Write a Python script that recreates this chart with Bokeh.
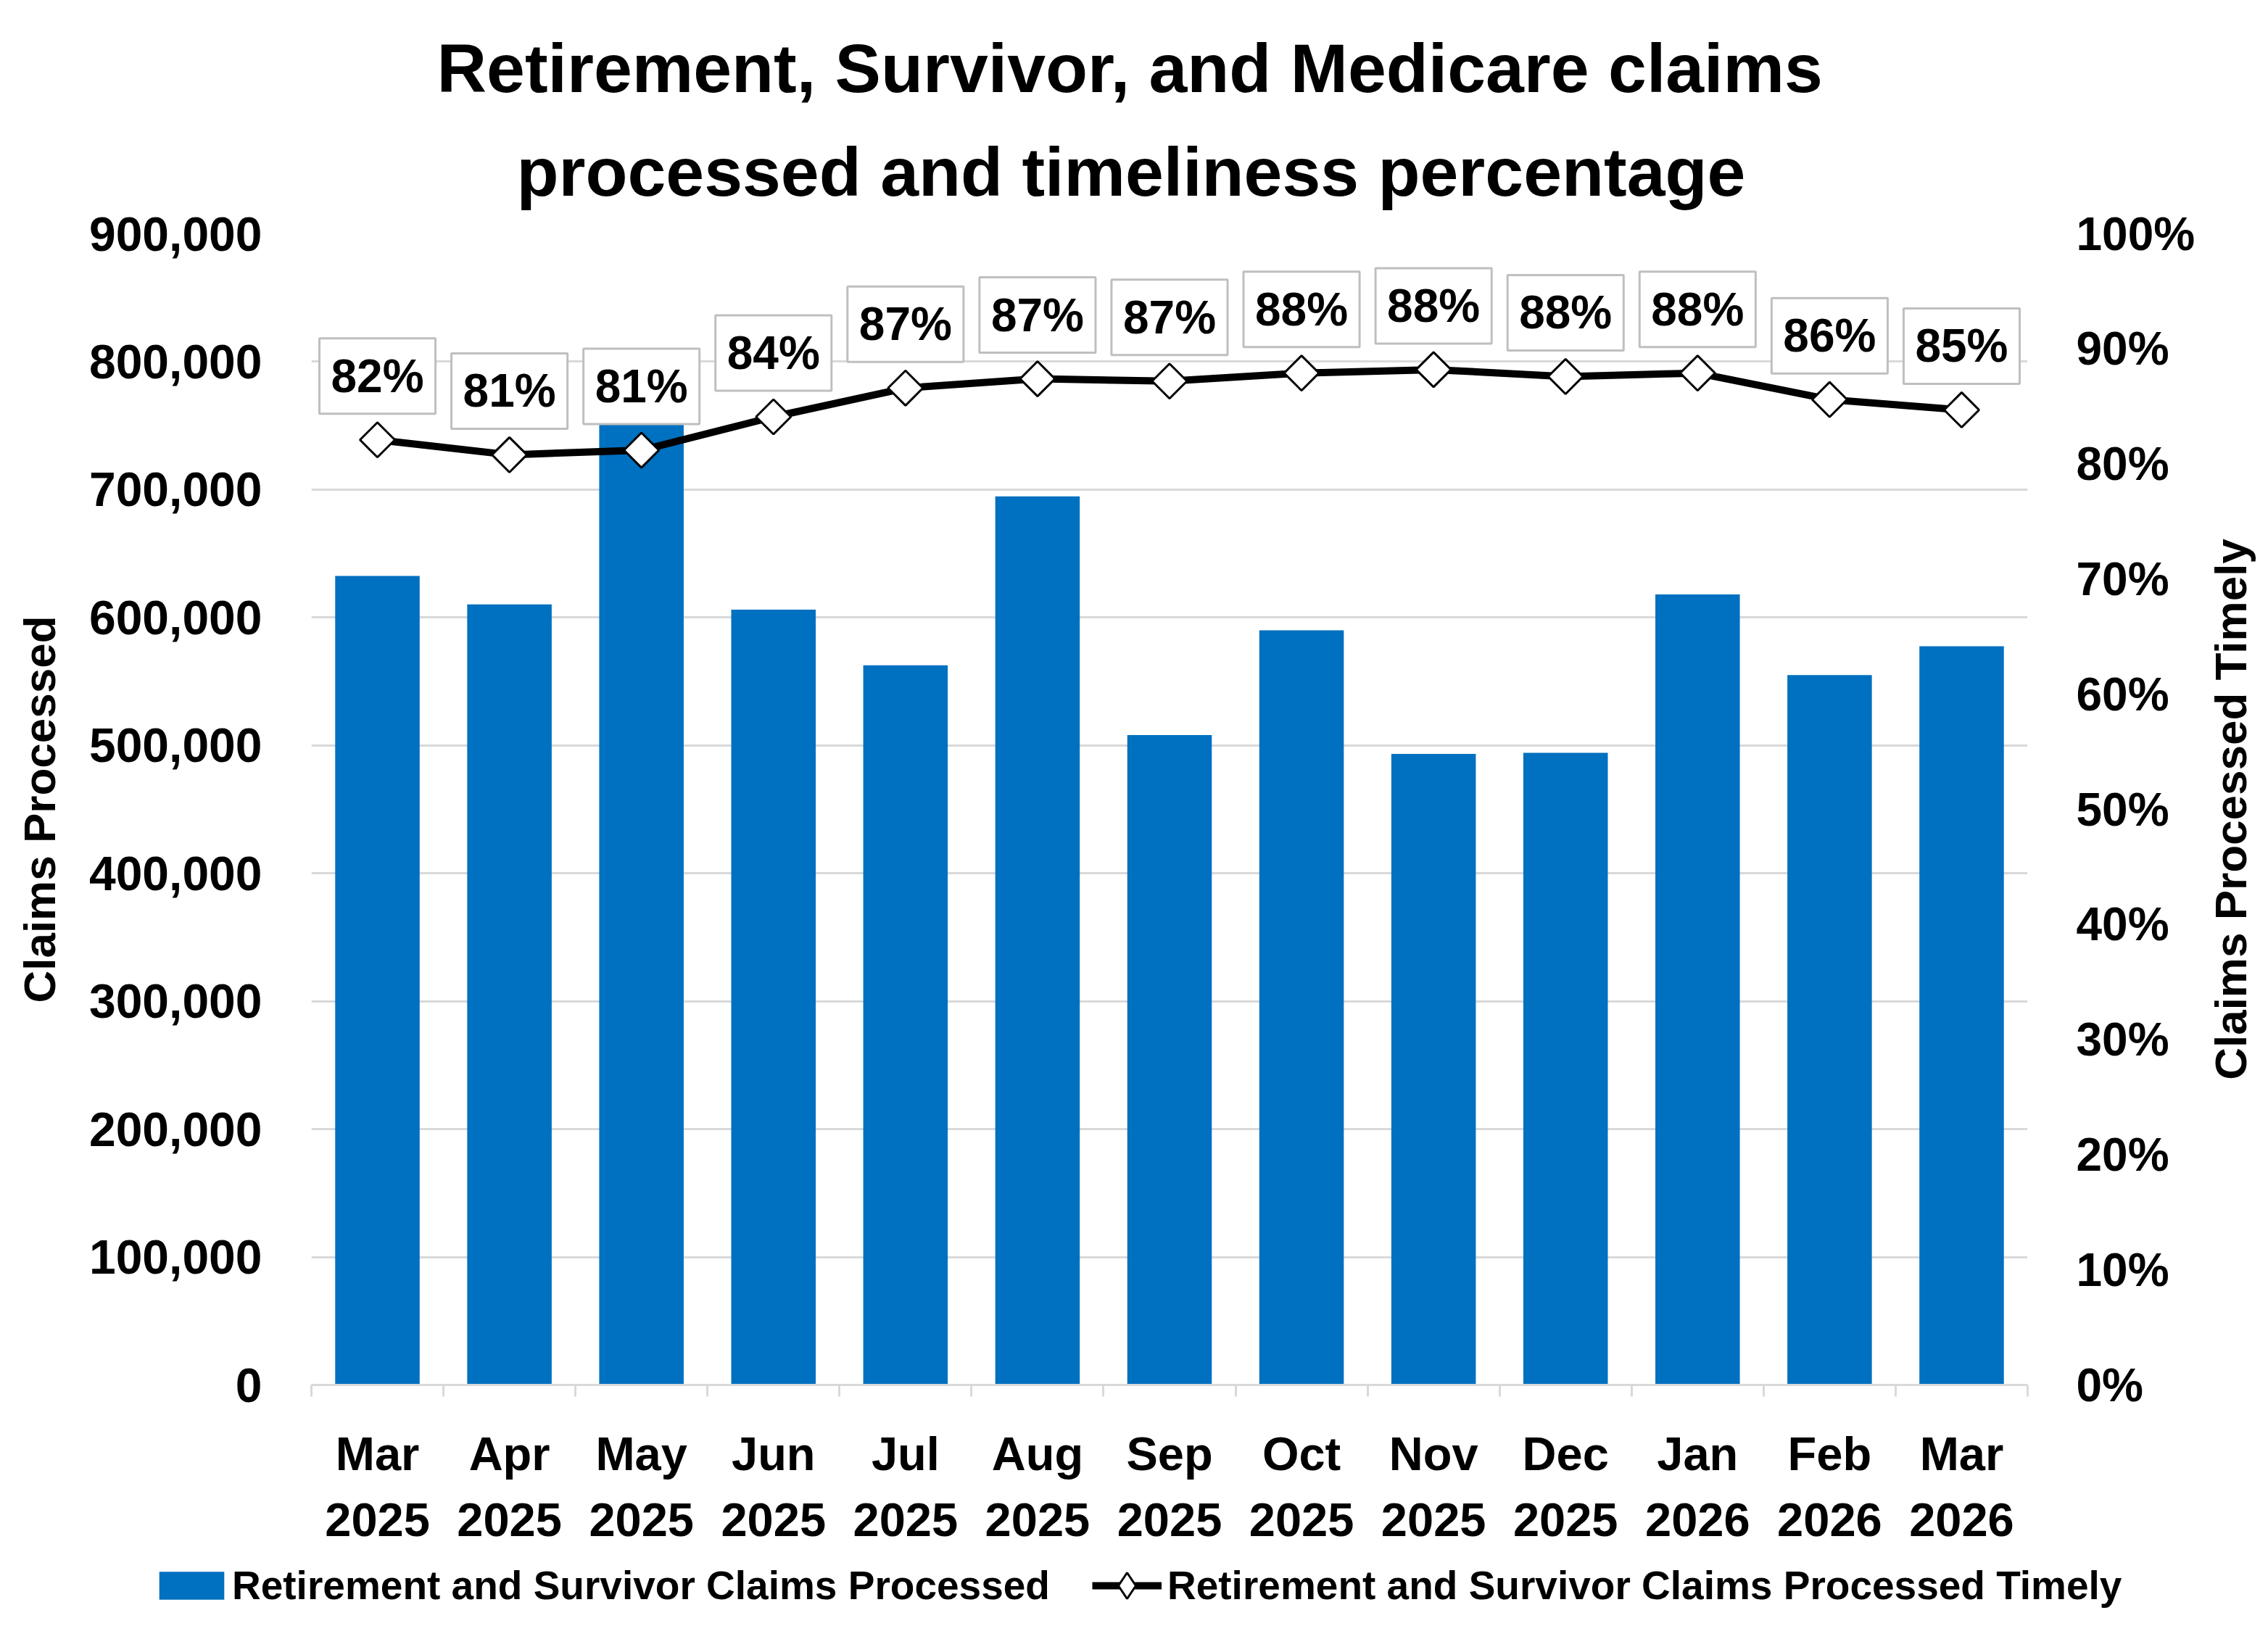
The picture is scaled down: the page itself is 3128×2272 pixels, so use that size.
import numpy as np
from bokeh.plotting import figure
from bokeh.layouts import column, row
from bokeh.models import (Range1d, LinearAxis, SingleIntervalTicker, FixedTicker,
                          NumeralTickFormatter, PrintfTickFormatter, Legend, LegendItem,
                          Label, Title, ColumnDataSource)
from bokeh.embed import file_html
from bokeh.resources import INLINE

# ---- data ----
months = ["Mar", "Apr", "May", "Jun", "Jul", "Aug", "Sep", "Oct", "Nov", "Dec", "Jan", "Feb", "Mar"]
years = ["2025", "2025", "2025", "2025", "2025", "2025", "2025", "2025", "2025", "2025", "2026", "2026", "2026"]
claims_processed = [632500, 610200, 770000, 606100, 562600, 694700, 508100, 590000, 493400, 494200, 618000, 555000, 577500]
timely_pct = [82.1, 80.8, 81.2, 84.1, 86.6, 87.4, 87.2, 87.9, 88.2, 87.6, 87.9, 85.6, 84.7]
title_lines = ["Retirement, Survivor, and Medicare claims", "processed and timeliness percentage"]
left_label = "Claims Processed"
right_label = "Claims Processed Timely"
bar_name = "Retirement and Survivor Claims Processed"
line_name = "Retirement and Survivor Claims Processed Timely"

FONT = "Liberation Sans"
BLUE = "#0070C0"
GRID = "#D9D9D9"

xs = [i + 0.5 for i in range(len(months))]
src = ColumnDataSource(dict(x=xs, claims=claims_processed, pct=timely_pct,
                            lab=[f"{round(v)}%" for v in timely_pct]))

W, H = 3112, 2256
PW, PH = 3030, 2136          # main chart panel
FRAME_L, FRAME_R, FRAME_T, FRAME_B = 429, 2798, 322, 1910


def clean(fig):
    fig.outline_line_color = None
    fig.background_fill_color = "white"
    fig.border_fill_color = "white"


# ---------------- main chart ----------------
p = figure(width=PW, height=PH, output_backend="svg", toolbar_location=None,
           x_range=Range1d(0, len(months)), y_range=Range1d(0, 900000),
           min_border_left=FRAME_L, min_border_right=PW - FRAME_R,
           min_border_top=FRAME_T, min_border_bottom=PH - FRAME_B)
p.title = None
clean(p)
p.extra_y_ranges = {"pct": Range1d(0, 100)}

# titles (closest-to-frame first), left aligned with offsets so they sit centred on the canvas
p.add_layout(Title(text=title_lines[1], align="left", text_font=FONT, text_font_size="95px",
                   text_font_style="bold", text_color="black", standoff=65, offset=283), "above")
p.add_layout(Title(text=title_lines[0], align="left", text_font=FONT, text_font_size="95px",
                   text_font_style="bold", text_color="black", standoff=6, offset=173), "above")

bars = p.vbar(x="x", top="claims", width=0.64, source=src, fill_color=BLUE, line_color=None)
line = p.line(x="x", y="pct", source=src, y_range_name="pct", line_color="black", line_width=10)
marks = p.scatter(x="x", y="pct", source=src, y_range_name="pct", marker="square", angle=np.pi/4,
                  size=34, fill_color="white", line_color="black", line_width=3)

for xv, yv, lab in zip(xs, timely_pct, src.data["lab"]):
    p.add_layout(Label(x=xv, y=yv, y_range_name="pct", text=lab, text_align="center",
                       text_baseline="bottom", y_offset=36, text_font=FONT, text_font_size="64px",
                       text_font_style="bold", text_color="black", background_fill_color="white",
                       border_line_color="#BFBFBF", border_line_width=3, padding=16))

xax = p.xaxis[0]
xax.ticker = FixedTicker(ticks=xs, minor_ticks=list(range(len(months) + 1)))
xax.major_label_overrides = {x: f"{m}\n{y}" for x, m, y in zip(xs, months, years)}
xax.major_tick_line_color = None
xax.major_tick_out = 0
xax.minor_tick_in = 0
xax.minor_tick_out = 16
xax.minor_tick_line_color = GRID
xax.minor_tick_line_width = 3
xax.axis_line_color = GRID
xax.axis_line_width = 3
xax.major_label_standoff = 42
xax.major_label_text_font = FONT
xax.major_label_text_font_size = "65px"
xax.major_label_text_font_style = "bold"
xax.major_label_text_color = "black"
xax.major_label_text_line_height = 1.26

yax = p.yaxis[0]
yax.ticker = SingleIntervalTicker(interval=100000, num_minor_ticks=0)
yax.formatter = NumeralTickFormatter(format="0,0")
yax.axis_line_color = None
yax.major_tick_line_color = None
yax.minor_tick_line_color = None
yax.major_label_standoff = 62
yax.major_label_text_font = FONT
yax.major_label_text_font_size = "66px"
yax.major_label_text_font_style = "bold"
yax.major_label_text_color = "black"
yax.axis_label = left_label
yax.axis_label_text_font = FONT
yax.axis_label_text_font_size = "62px"
yax.axis_label_text_font_style = "bold"
yax.axis_label_text_color = "black"
yax.axis_label_standoff = 31

rax = LinearAxis(y_range_name="pct", ticker=SingleIntervalTicker(interval=10, num_minor_ticks=0),
                 formatter=PrintfTickFormatter(format="%d%%"))
rax.axis_line_color = None
rax.major_tick_line_color = None
rax.minor_tick_line_color = None
rax.major_tick_out = 0
rax.major_label_standoff = 67
rax.major_label_text_font = FONT
rax.major_label_text_font_size = "64px"
rax.major_label_text_font_style = "bold"
rax.major_label_text_color = "black"
p.add_layout(rax, "right")

p.xgrid.grid_line_color = None
p.ygrid.grid_line_color = GRID
p.ygrid.grid_line_width = 3

# ---------------- right axis title (reads bottom-to-top) ----------------
RW = W - PW
rfig = figure(width=RW, height=PH, output_backend="svg", toolbar_location=None,
              x_range=Range1d(0, 1), y_range=Range1d(0, 1),
              min_border_left=RW - 2, min_border_right=0,
              min_border_top=FRAME_T, min_border_bottom=PH - FRAME_B)
rfig.title = None
rfig.axis.visible = False
rfig.grid.visible = False
clean(rfig)
rfig.add_layout(Title(text=right_label, align="center", text_font=FONT, text_font_size="62px",
                      text_font_style="bold", text_color="black", standoff=0), "left")

# ---------------- legend strip ----------------
# legend proxies share the chart's data but sit outside this strip's visible range
LH = H - PH
lf = figure(width=W, height=LH, output_backend="svg", toolbar_location=None,
            x_range=Range1d(-2, -1), y_range=Range1d(0, 1),
            min_border_left=0, min_border_right=0, min_border_top=0, min_border_bottom=0)
lf.title = None
lf.axis.visible = False
lf.grid.visible = False
clean(lf)
lb = lf.vbar(x="x", top="claims", width=0.64, source=src, fill_color=BLUE, line_color=None)
ll = lf.line(x="x", y="pct", source=src, line_color="black", line_width=10)
lm = lf.scatter(x="x", y="pct", source=src, marker="diamond", size=34,
                fill_color="white", line_color="black", line_width=3)

common = dict(orientation="horizontal", label_text_font=FONT, label_text_font_size="55px",
              label_text_font_style="bold", label_text_color="black", border_line_color=None,
              background_fill_alpha=0, padding=0, margin=0, inactive_fill_alpha=0)
legend1 = Legend(items=[LegendItem(label=bar_name, renderers=[lb])], location=(208, 37),
                 glyph_width=112, glyph_height=48, label_standoff=0, **common)
legend2 = Legend(items=[LegendItem(label=line_name, renderers=[ll, lm])], location=(1506, 24),
                 glyph_width=96, glyph_height=90, label_standoff=8, **common)
lf.add_layout(legend1, "center")
lf.add_layout(legend2, "center")

layout = column(row(p, rfig, spacing=0), lf, spacing=0)
open("out.html", "w").write(file_html(layout, INLINE))
